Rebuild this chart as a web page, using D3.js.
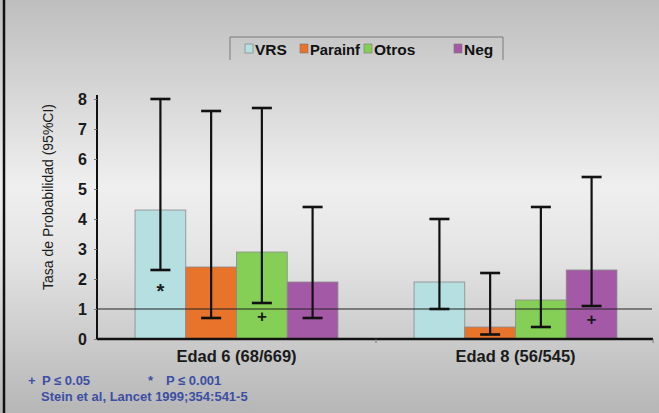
<!DOCTYPE html>
<html>
<head>
<meta charset="utf-8">
<script src="https://cdn.jsdelivr.net/npm/d3@7"></script>
<style>
  html, body { margin: 0; padding: 0; }
  svg { display: block; font-family: "Liberation Sans", Arial, sans-serif; }
</style>
</head>
<body>
<div id="chart"></div>
<script>
// --- Data ---
const groups = ["Edad 6 (68/669)", "Edad 8 (56/545)"];
const seriesNames = ["VRS", "Parainf", "Otros", "Neg"];
const seriesColors = ["#b5dfe1", "#e8732b", "#86cf57", "#a459a6"];
// odds ratio, lower CI, upper CI per group
const orValues = [[4.3, 2.4, 2.9, 1.9], [1.9, 0.4, 1.3, 2.3]];
const ciLow = [[2.3, 0.7, 1.2, 0.7], [1.0, 0.15, 0.4, 1.1]];
const ciHigh = [[8.0, 7.6, 7.7, 4.4], [4.0, 2.2, 4.4, 5.4]];
const sigMarks = [["*", "", "+", ""], ["", "", "", "+"]];
const yTicks = [0, 1, 2, 3, 4, 5, 6, 7, 8];

const width = 659, height = 413;
const margin = { top: 99, right: 4, bottom: 74, left: 97 };
const font = "'Liberation Sans', Arial, sans-serif";

const svg = d3.select("#chart").append("svg")
  .attr("width", width).attr("height", height);

// --- Background ---
const grad = svg.append("defs").append("linearGradient")
  .attr("id", "bg").attr("x1", 0).attr("y1", 0).attr("x2", 0).attr("y2", 1);
grad.append("stop").attr("offset", "0%").attr("stop-color", "#bebebe");
grad.append("stop").attr("offset", "45%").attr("stop-color", "#efefef");
grad.append("stop").attr("offset", "62%").attr("stop-color", "#e4e4e4");
grad.append("stop").attr("offset", "100%").attr("stop-color", "#b6b6b6");
svg.append("rect").attr("width", width).attr("height", height).attr("fill", "url(#bg)");
svg.append("line").attr("x1", 4).attr("x2", 4).attr("y1", 0).attr("y2", height)
  .attr("stroke", "#111").attr("stroke-width", 2.5);

// --- Scales ---
const y = d3.scaleLinear().domain([0, 8]).range([339, 99]);
const x0 = d3.scaleBand().domain(groups).range([margin.left, 655]);
const x1 = d3.scaleBand().domain(seriesNames)
  .range([0, x0.bandwidth()]).paddingOuter(0.75);

const g = svg.append("g");

// --- Bars ---
groups.forEach((grp, gi) => {
  const gg = g.append("g").attr("transform", `translate(${x0(grp)},0)`);
  seriesNames.forEach((s, si) => {
    gg.append("rect")
      .attr("x", x1(s)).attr("y", y(orValues[gi][si]))
      .attr("width", x1.bandwidth()).attr("height", y(0) - y(orValues[gi][si]))
      .attr("fill", seriesColors[si])
      .attr("stroke", "#8a8a8a").attr("stroke-width", 0.8);
  });
});

// --- Reference line at 1 ---
g.append("line")
  .attr("x1", margin.left).attr("x2", 652)
  .attr("y1", y(1)).attr("y2", y(1))
  .attr("stroke", "#222").attr("stroke-width", 1.2);

// --- Error bars and significance marks ---
groups.forEach((grp, gi) => {
  const gg = g.append("g").attr("transform", `translate(${x0(grp)},0)`);
  seriesNames.forEach((s, si) => {
    const cx = x1(s) + x1.bandwidth() / 2;
    gg.append("line")
      .attr("x1", cx).attr("x2", cx)
      .attr("y1", y(ciLow[gi][si])).attr("y2", y(ciHigh[gi][si]))
      .attr("stroke", "#111").attr("stroke-width", 2.2);
    [ciLow[gi][si], ciHigh[gi][si]].forEach(v => {
      gg.append("line")
        .attr("x1", cx - 10).attr("x2", cx + 10)
        .attr("y1", y(v)).attr("y2", y(v))
        .attr("stroke", "#111").attr("stroke-width", 2.6);
    });
    const mark = sigMarks[gi][si];
    if (mark) {
      gg.append("text")
        .attr("x", cx)
        .attr("y", mark === "*" ? y(ciLow[gi][si]) + 28 : y(ciLow[gi][si]) + 19)
        .attr("text-anchor", "middle")
        .attr("font-size", mark === "*" ? 20 : 17)
        .attr("font-weight", "bold")
        .attr("fill", "#1a1a1a")
        .text(mark);
    }
  });
});

// --- Axes ---
const yAxis = svg.append("g").attr("transform", `translate(${margin.left},0)`)
  .call(d3.axisLeft(y).tickValues(yTicks).tickSize(3).tickPadding(7));
yAxis.select(".domain").attr("stroke", "#111").attr("stroke-width", 2)
  .attr("d", `M0,${y(8) - 4}V${y(0)}`);
yAxis.selectAll(".tick line").attr("stroke", "#777");
yAxis.selectAll(".tick text").attr("font-size", 16).attr("font-weight", "bold")
  .attr("fill", "#1a1a1a").attr("font-family", font);

const xAxis = svg.append("g").attr("transform", `translate(0,${y(0)})`)
  .call(d3.axisBottom(x0).tickSize(0).tickPadding(11));
xAxis.select(".domain").attr("stroke", "#111").attr("stroke-width", 2.5)
  .attr("d", `M${margin.left},0H653`);
xAxis.selectAll(".tick text").attr("font-size", 16.5).attr("font-weight", "bold")
  .attr("fill", "#1a1a1a").attr("font-family", font);
// group dividers
[x0.range()[0] + x0.bandwidth(), 653].forEach(px => {
  svg.append("line").attr("x1", px).attr("x2", px)
    .attr("y1", y(0)).attr("y2", y(0) + 4)
    .attr("stroke", "#777").attr("stroke-width", 1);
});

// --- Y label ---
svg.append("text")
  .attr("transform", `translate(53,197) rotate(-90)`)
  .attr("text-anchor", "middle")
  .attr("font-size", 14)
  .attr("fill", "#1a1a1a")
  .text("Tasa de Probabilidad (95%CI)");

// --- Legend ---
const legend = svg.append("g");
legend.append("path")
  .attr("d", "M230,60V37H503V60")
  .attr("fill", "none").attr("stroke", "#7a7a7a").attr("stroke-width", 1);
const legendX = [245, 300, 364, 454];
seriesNames.forEach((s, i) => {
  legend.append("rect")
    .attr("x", legendX[i]).attr("y", 44).attr("width", 8).attr("height", 9)
    .attr("fill", seriesColors[i]).attr("stroke", "#777").attr("stroke-width", 0.6);
  const t = legend.append("text")
    .attr("x", legendX[i] + 10).attr("y", 55)
    .attr("font-size", 15.5).attr("font-weight", "bold").attr("fill", "#111")
    .text(s);
  if (s === "Parainf") t.attr("textLength", 50).attr("lengthAdjust", "spacingAndGlyphs");
});

// --- Footnotes ---
const notes = svg.append("g").attr("fill", "#3d4fa3").attr("font-size", 13)
  .attr("font-weight", "bold");
notes.append("text").attr("x", 28).attr("y", 385).text("+");
notes.append("text").attr("x", 42).attr("y", 385).text("P ≤ 0.05");
notes.append("text").attr("x", 148).attr("y", 385).text("*");
notes.append("text").attr("x", 166).attr("y", 385).text("P ≤ 0.001");
notes.append("text").attr("x", 41).attr("y", 401).text("Stein et al, Lancet 1999;354:541-5");
</script>
</body>
</html>
